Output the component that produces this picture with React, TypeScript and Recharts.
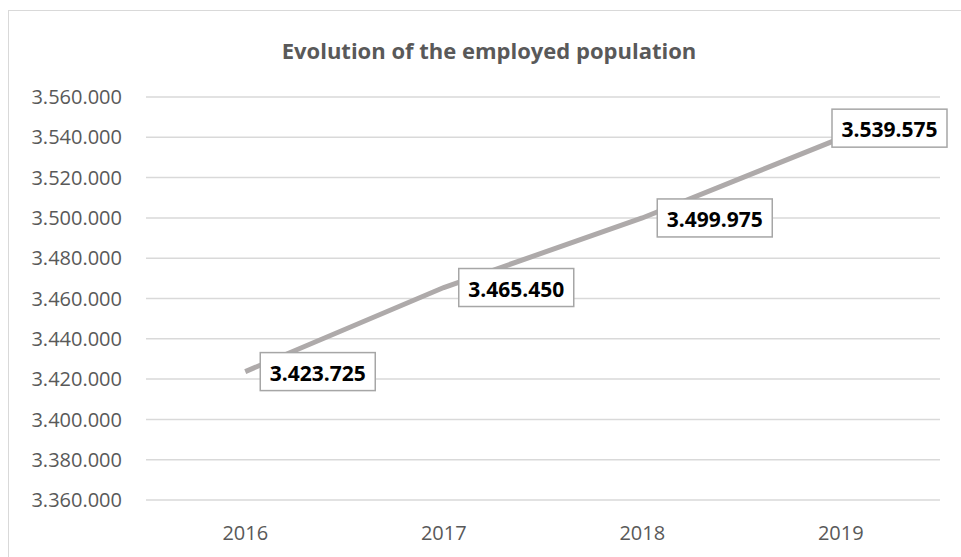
import { LineChart, Line, XAxis, YAxis, CartesianGrid, LabelList } from "recharts";

const years = ["2016", "2017", "2018", "2019"];
const employed = [3423725, 3465450, 3499975, 3539575];
const yTicks = [3360000, 3380000, 3400000, 3420000, 3440000, 3460000, 3480000, 3500000, 3520000, 3540000, 3560000];

const data = years.map((y, i) => ({ year: y, value: employed[i] }));

const fmt = (n: number) => String(n).replace(/\B(?=(\d{3})+(?!\d))/g, ".");

const FONT = "'Open Sans', sans-serif";
const W = 961;
const H = 557;

// data label box, placed right of the point, pushed back inside when it would overflow
const ValueLabel = (props: any) => {
    const { x, y, value } = props;
    const bw = 115;
    const bh = 38;
    let bx = x + 15;
    let by = y - bh / 2;
    if (bx + bw > 947) {
        bx = 947 - bw;
        by -= 10;
    }
    return (
        <g>
            <rect x={bx} y={by} width={bw} height={bh} fill="#fff" stroke="#a6a6a6" strokeWidth={1.5} />
            <text x={bx + bw / 2} y={by + bh / 2 + 1} textAnchor="middle" dominantBaseline="central"
                fontFamily={FONT} fontWeight={700} fontSize={21} fill="#000">
                {fmt(value)}
            </text>
        </g>
    );
};

export default function App() {
    return (
        <div style={{ position: "absolute", left: 0, top: 0, width: W, height: H, overflow: "hidden", background: "#fff" }}>
            <div style={{ position: "absolute", left: 8, top: 10, width: W, height: H, borderLeft: "1.5px solid #d9d9d9", borderTop: "1.5px solid #d9d9d9" }} />
            <div style={{ position: "absolute", left: 0, top: 35, width: 978, textAlign: "center", fontFamily: FONT, fontWeight: 700, fontSize: 22, color: "#595959" }}>
                Evolution of the employed population
            </div>
            <div style={{ position: "absolute", left: 0, top: 0 }}>
                <LineChart width={W} height={H} data={data} margin={{ top: 97, right: 21, bottom: 0, left: 0 }}>
                    <CartesianGrid vertical={false} stroke="#d9d9d9" strokeWidth={1.5} />
                    <XAxis dataKey="year" scale="band" height={57} axisLine={false} tickLine={false} tickSize={0} tickMargin={26}
                        tick={{ fill: "#595959", fontSize: 20, fontFamily: FONT }} />
                    <YAxis width={146} domain={[3360000, 3560000]} ticks={yTicks} tickFormatter={fmt}
                        axisLine={false} tickLine={false} tickSize={0} tickMargin={24}
                        tick={{ fill: "#595959", fontSize: 20, fontFamily: FONT }} />
                    <Line dataKey="value" stroke="#aeaaaa" strokeWidth={5} dot={false} isAnimationActive={false}>
                        <LabelList dataKey="value" content={<ValueLabel />} />
                    </Line>
                </LineChart>
            </div>
        </div>
    );
}
